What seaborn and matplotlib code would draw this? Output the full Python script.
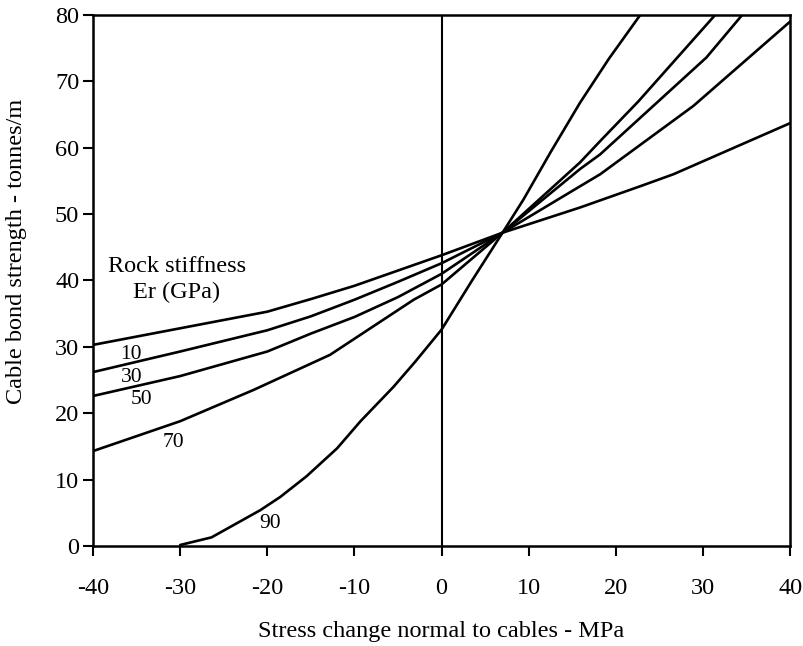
import numpy as np
import pandas as pd
import matplotlib
matplotlib.use("Agg")
import matplotlib.pyplot as plt
import seaborn as sns

# values
stiffness = [10, 30, 50, 70, 90]

x_10 = [-40, -30, -20, -15, -10, -5, 0, 7, 15.9, 22.8, 26.6, 40]
y_10 = [30.3, 32.8, 35.3, 37.2, 39.2, 41.5, 43.8, 47.2, 51.0, 54.2, 56.0, 63.7]

x_30 = [-40, -30, -20, -15, -10, -5, 0, 7, 15.9, 18.2, 28.9, 40]
y_30 = [26.2, 29.3, 32.5, 34.6, 37.1, 39.8, 42.6, 47.2, 54.2, 56.0, 66.3, 79.0]

x_50 = [-40, -30, -20, -15, -10, -5, 0, 7, 15.9, 18.2, 30.4, 34.5]
y_50 = [22.6, 25.6, 29.3, 32.0, 34.5, 37.5, 41.0, 47.2, 56.8, 59.0, 73.6, 80.0]

x_70 = [-40, -30, -21.6, -12.8, -3.2, 0, 7, 15.9, 18.2, 22.6, 31.4]
y_70 = [14.3, 18.8, 23.5, 28.8, 37.1, 39.4, 47.2, 57.8, 61.0, 67.0, 80.0]

x_90 = [-30, -26.4, -20.8, -18.5, -15.5, -12, -9.3, -5.5, -3, 0, 3.5, 7, 9.4, 12.5, 15.9, 19.2, 22.8]
y_90 = [0.15, 1.3, 5.4, 7.4, 10.5, 14.7, 18.8, 24.0, 27.8, 32.6, 40.0, 47.2, 52.2, 59.3, 66.8, 73.4, 80.0]

curve_labels = ["10", "30", "50", "70", "90"]
label_x = [-35.7, -35.6, -34.4, -30.8, -19.7]
label_y = [28.9, 25.4, 22.0, 15.6, 3.4]

xs = [x_10, x_30, x_50, x_70, x_90]
ys = [y_10, y_30, y_50, y_70, y_90]
frames = []
for er, xv, yv in zip(stiffness, xs, ys):
    frames.append(pd.DataFrame({"stress": xv, "strength": yv, "Er": er}))
df = pd.concat(frames, ignore_index=True)

sns.set_style("ticks")
plt.rcParams["font.family"] = ["Liberation Serif", "DejaVu Serif"]
plt.rcParams["axes.unicode_minus"] = False
plt.rcParams["text.color"] = "black"
plt.rcParams["axes.labelcolor"] = "black"

fig = plt.figure(figsize=(8.04, 6.46), dpi=100)
ax = fig.add_axes([0.1157, 0.1548, 0.867, 0.822])

sns.lineplot(data=df, x="stress", y="strength", hue="Er", palette=["black"] * 5,
             estimator=None, sort=False, legend=False, linewidth=1.9, ax=ax)
ax.axvline(0, color="black", linewidth=1.5)

for lab, lx, ly in zip(curve_labels, label_x, label_y):
    ax.text(lx, ly, lab, ha="center", va="center", fontsize=15.5)
ax.text(-30.4, 42.1, "Rock stiffness", ha="center", va="center", fontsize=17.5)
ax.text(-30.4, 38.2, "Er (GPa)", ha="center", va="center", fontsize=17.5)

ax.set_xlim(-40, 40)
ax.set_ylim(0, 80)
ax.set_xticks(np.arange(-40, 41, 10))
ax.set_yticks(np.arange(0, 81, 10))
ax.tick_params(direction="out", length=7, width=1.5, labelsize=17.5, pad=16, colors="black")
ax.tick_params(axis="y", pad=3)
for sp in ax.spines.values():
    sp.set_linewidth(1.8)
    sp.set_color("black")
ax.set_xlabel("Stress change normal to cables - MPa", fontsize=17.5, labelpad=16)
ax.set_ylabel("Cable bond strength - tonnes/m", fontsize=17.5)
ax.yaxis.set_label_coords(-0.095, 0.554)

fig.savefig("out.png", dpi=100)
